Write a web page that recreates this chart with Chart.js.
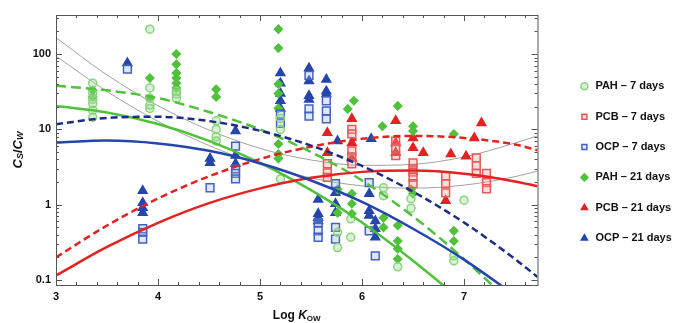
<!DOCTYPE html>
<html>
<head>
<meta charset="utf-8">
<script src="https://cdn.jsdelivr.net/npm/chart.js@4"></script>
<style>
  html,body{margin:0;padding:0;background:#fff;}
  canvas{display:block;}
</style>
</head>
<body>
<canvas id="c" width="677" height="323"></canvas>
<script>
// ---------- data ----------
const X_LABELS = [3,4,5,6,7];
const Y_LABELS = [0.1,1,10,100];

// [log Kow, Cs/Cw]
const PAH_7 = [[3.36,41],[3.36,30],[3.36,25],[3.36,22],[3.36,18],[3.36,14.5],
  [3.92,214],[3.92,35.5],[3.92,26],[3.92,21],[3.92,19],
  [4.18,32],[4.18,29.5],[4.18,26],
  [4.57,13],[4.57,10],[4.57,8],[4.57,7],
  [5.2,14],[5.2,10],[5.2,2.2],
  [5.76,0.43],[5.76,0.27],[5.89,0.65],[5.89,0.37],
  [6.21,1.68],[6.21,1.32],[6.35,0.15],[6.48,1.2],[6.48,0.9],
  [6.9,0.21],[6.9,0.18],[7.0,1.15]];
const PCB_7 = [[5.66,3.5],[5.66,2.65],[5.66,2.3],
  [5.9,10],[5.9,8.7],[5.9,5.2],[5.9,4.3],[5.9,3.5],
  [6.33,7],[6.33,5.7],[6.33,4.5],
  [6.5,3.6],[6.5,3.0],[6.5,2.7],[6.5,2.3],[6.5,1.9],
  [6.82,2.4],[6.82,1.9],[6.82,1.44],
  [7.12,4.2],[7.12,3.3],[7.12,2.6],
  [7.22,2.6],[7.22,1.96],[7.22,1.63]];
const OCP_7 = [[3.7,63],
  [3.85,0.48],[3.85,0.43],[3.85,0.35],
  [4.51,1.68],
  [4.76,6.0],[4.76,3.0],[4.76,2.6],[4.76,2.2],
  [5.2,16],[5.2,12],
  [5.48,52],[5.48,18.7],[5.48,15],
  [5.65,24],[5.65,17.6],[5.65,13.8],
  [5.57,0.58],[5.57,0.45],[5.57,0.37],
  [5.74,1.9],[5.74,0.5],[5.74,0.35],
  [6.07,1.96],[6.07,0.45],[6.13,0.21]];
const PAH_21 = [[3.36,33],[3.36,27],
  [3.92,48],[3.92,26],
  [4.18,100],[4.18,73],[4.18,56],[4.18,48],[4.18,41],[4.18,35.5],
  [4.57,34],[4.57,27],
  [5.18,214],[5.18,120],[5.18,40],[5.18,30],[5.18,19],[5.18,6.4],[5.18,4.7],[5.18,4.1],
  [5.86,18.7],[5.92,24],
  [5.76,1.6],[5.76,0.78],[5.9,1.4],[5.9,1.03],[5.9,0.76],
  [6.2,11],[6.21,0.67],[6.21,0.5],
  [6.35,20.5],[6.35,0.53],[6.35,0.33],[6.35,0.26],[6.35,0.19],
  [6.5,11],[6.5,9.5],[6.48,1.6],[6.5,1.4],
  [6.9,8.7],[6.9,0.45],[6.9,0.33]];
const PCB_21 = [[5.66,9],[5.66,4.9],
  [5.9,13.8],[5.9,6.6],[5.9,4.1],
  [6.33,13],[6.33,6.6],[6.33,4.9],
  [6.5,7.7],[6.5,5.7],[6.6,4.9],[6.87,4.7],[6.82,1.13],
  [7.02,4.4],[7.1,7.7],[7.17,12.2]];
const OCP_21 = [[3.7,76],
  [3.85,1.53],[3.85,1.06],[3.85,0.91],[3.85,0.78],
  [4.51,4.1],[4.51,3.6],
  [4.76,9.5],[4.76,4.5],[4.76,3.5],
  [5.2,56],[5.2,41],[5.2,30],[5.2,24],[5.2,19],
  [5.48,65],[5.48,44],[5.48,28],[5.48,25],
  [5.65,46],[5.65,32],[5.65,29.5],
  [5.57,1.17],[5.57,0.76],[5.57,0.67],[5.57,0.61],
  [5.74,1.44],[5.74,1.03],[5.74,0.78],
  [5.76,7.0],[6.09,7.5],
  [6.07,1.4],[6.07,0.83],[6.07,0.72],
  [6.13,0.61],[6.13,0.48],[6.13,0.37]];

// fitted curves, read every 0.5 log unit
const FIT_X      = [3,    3.5,  4,    4.5,  5,    5.5,  6,    6.5,  7,     7.5,   7.72];
const FIT_PAH_7  = [38,   33,   26,   17,   10,   5,    2.1,  0.7,  0.19,  0.043, 0.021];
const FIT_PAH_21 = [20.4, 16.8, 11.8, 7.05, 3.6,  1.56, 0.58, 0.18, 0.049, 0.011, 0.0057];
const FIT_OCP_7  = [11.7, 14.2, 14.7, 12.9, 9.6,  6.1,  3.27, 1.49, 0.58,  0.19,  0.11];
const FIT_OCP_21 = [6.7,  7.1,  6.5,  5.2,  3.55, 2.1,  1.09, 0.48, 0.187, 0.062, 0.037];
const FIT_PCB_7  = [0.2,  0.53, 1.21, 2.38, 4.05, 5.9,  7.5,  8.2,  7.7,   6.3,   5.3];
const FIT_PCB_21 = [0.115,0.275,0.575,1.05, 1.65, 2.28, 2.73, 2.84, 2.58,  2.04,  1.76];
const GREY_A     = [165,  52.8, 20.6, 9.8,  5.6,  3.93, 3.33, 3.44, 4.3,   6.6,   8.2];
const GREY_B     = [94,   31.9, 12.8, 6.1,  3.42, 2.27, 1.78, 1.66, 1.82,  2.36,  2.8];

// ---------- style ----------
const FONT = "'Liberation Sans', Arial, sans-serif";
const GREEN = "#4fc23a", GREEN_L = "#8ad47c", RED = "#e42222", RED_L = "#e45a5a",
      BLUE = "#2446ad", BLUE_D = "#1d2d86", BLUE_L = "#4262c0", GREY = "#a2a2a2";

// ---------- helpers ----------
const xy = list => list.map(([x,y]) => ({x,y}));
function fit(ys,color,dash,width){
  return {type:"line",data:FIT_X.map((x,i)=>({x,y:ys[i]})),borderColor:color,borderWidth:width,
    borderDash:dash,pointRadius:0,fill:false,cubicInterpolationMode:"monotone"};
}
function pts(list,label,style,fill,stroke,r){
  return {type:"scatter",label,data:xy(list),pointStyle:style,backgroundColor:fill,
    borderColor:stroke,borderWidth:1.5,pointRadius:r,pointHoverRadius:r};
}
const near = (a,b) => Math.abs(a-b) < 1e-6;

// sub/superscript text pieces drawn centred on (0,0)
function rich(ctx,parts){
  let w=0;
  parts.forEach(p=>{ctx.font=p.f; p.w=ctx.measureText(p.t).width; w+=p.w;});
  let x=-w/2;
  parts.forEach(p=>{ctx.font=p.f; ctx.fillText(p.t,x,p.dy||0); x+=p.w;});
}

// frame with inward ticks on all four sides + axis titles
const frame = {
  id:"frame",
  afterDraw(chart){
    const {ctx,chartArea:a,scales:{x,y}} = chart;
    ctx.save();
    ctx.strokeStyle="#555"; ctx.lineWidth=1;
    ctx.strokeRect(a.left+.5,a.top+.5,a.right-a.left,a.bottom-a.top);
    ctx.beginPath();
    x.ticks.forEach(t=>{
      const len = X_LABELS.some(v=>near(v,t.value)) ? 6 : 3;
      const px = Math.round(x.getPixelForValue(t.value))+.5;
      ctx.moveTo(px,a.bottom); ctx.lineTo(px,a.bottom-len);
      ctx.moveTo(px,a.top);    ctx.lineTo(px,a.top+len);
    });
    y.ticks.forEach(t=>{
      const len = Y_LABELS.some(v=>near(v,t.value)) ? 6 : 3;
      const py = Math.round(y.getPixelForValue(t.value))+.5;
      ctx.moveTo(a.left,py);  ctx.lineTo(a.left+len,py);
      ctx.moveTo(a.right,py); ctx.lineTo(a.right-len,py);
    });
    ctx.stroke();

    ctx.fillStyle="#111"; ctx.textBaseline="middle"; ctx.textAlign="left";
    const big="italic bold 13px "+FONT, sub="italic bold 9px "+FONT;
    ctx.save();
    ctx.translate(18,(a.top+a.bottom)/2); ctx.rotate(-Math.PI/2);
    rich(ctx,[{t:"C",f:big},{t:"S",f:sub,dy:3},{t:"/",f:"bold 13px "+FONT},{t:"C",f:big},{t:"W",f:sub,dy:3}]);
    ctx.restore();
    ctx.save();
    ctx.translate((a.left+a.right)/2,316);
    rich(ctx,[{t:"Log ",f:"bold 12px "+FONT},{t:"K",f:"italic bold 12px "+FONT},{t:"OW",f:"bold 8px "+FONT,dy:3}]);
    ctx.restore();
    ctx.restore();
  }
};

// ---------- chart ----------
Chart.defaults.font.family = FONT;
const X_TICKS = []; for(let i=30;i<=76;i+=2) X_TICKS.push(i/10);
const Y_TICKS = [];
[0.1,1,10,100].forEach(d=>{ for(let k=1;k<=9;k++){ const v=+(k*d).toPrecision(2); if(v<=330) Y_TICKS.push(v); } });

new Chart(document.getElementById("c"),{
  type:"scatter",
  data:{datasets:[
    fit(FIT_OCP_7,BLUE_D,[7,4],2.5),
    fit(FIT_OCP_21,BLUE,[],2.5),
    fit(FIT_PCB_7,RED,[7,4],2.5),
    fit(FIT_PCB_21,RED,[],2.5),
    fit(FIT_PAH_7,GREEN,[10,5],2.5),
    fit(FIT_PAH_21,GREEN,[],2.5),
    pts(PAH_7,"PAH \u2013 7 days","circle","rgba(150,215,140,0.35)",GREEN_L,4),
    pts(PCB_7,"PCB \u2013 7 days","rect","rgba(240,160,160,0.35)",RED_L,5.5),
    pts(OCP_7,"OCP \u2013 7 days","rect","rgba(160,175,230,0.3)",BLUE_L,5.5),
    pts(PAH_21,"PAH \u2013 21 days","rectRot",GREEN,GREEN,4),
    pts(PCB_21,"PCB \u2013 21 days","triangle",RED,RED,5),
    pts(OCP_21,"OCP \u2013 21 days","triangle",BLUE,BLUE,5),
    fit(GREY_A,GREY,[],1),
    fit(GREY_B,GREY,[],1)
  ]},
  options:{
    responsive:false, animation:false,
    layout:{padding:{top:15,right:5.6,bottom:13.5,left:0}},
    plugins:{
      tooltip:{enabled:false},
      legend:{position:"right",align:"center",
        labels:{usePointStyle:true,boxHeight:5,padding:19.4,color:"#111",
          font:{size:11,weight:"bold"},
          filter:item=>!!item.text}}
    },
    scales:{
      x:{type:"linear",min:3,max:7.72,
        grid:{display:false,drawTicks:false},border:{display:false},
        afterBuildTicks:s=>{s.ticks=X_TICKS.map(v=>({value:v}));},
        ticks:{autoSkip:false,maxRotation:0,padding:5,color:"#111",font:{size:11,weight:"bold"},
          callback:v=>X_LABELS.some(l=>near(l,v))?String(Math.round(v)):""},
        afterFit:s=>{s.height=24.5;}},
      y:{type:"logarithmic",min:0.086,max:330,
        grid:{display:false,drawTicks:false},border:{display:false},
        afterBuildTicks:s=>{s.ticks=Y_TICKS.map(v=>({value:v}));},
        ticks:{autoSkip:false,padding:5,color:"#111",font:{size:11,weight:"bold"},
          callback:v=>Y_LABELS.some(l=>near(l,v))?String(v):""},
        afterFit:s=>{s.width=56;}},
      y2:{type:"linear",position:"right",display:true,
        grid:{display:false,drawTicks:false},border:{display:false},
        ticks:{display:false},
        afterFit:s=>{s.width=22;}}
    }
  },
  plugins:[frame]
});
</script>
</body>
</html>
